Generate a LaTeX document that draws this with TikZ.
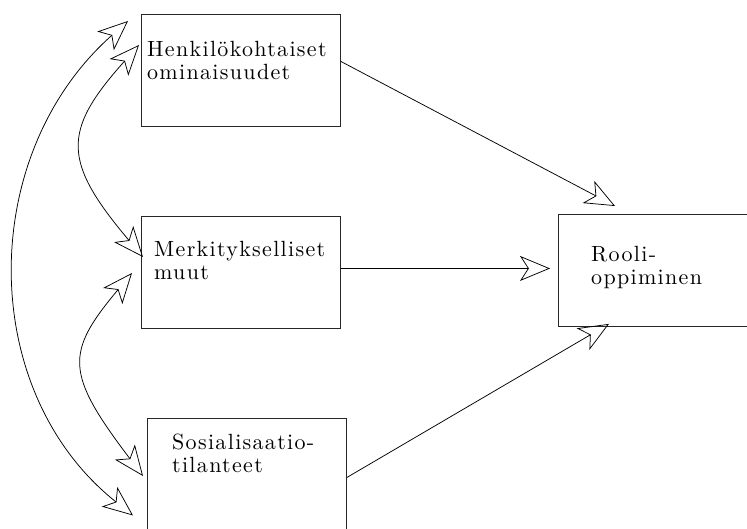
\documentclass[tikz,border=0pt]{standalone}
\usepackage{fontspec}
\setmainfont{lmroman10-regular.otf}[LetterSpace=6]
\usetikzlibrary{arrows.meta,calc}
\begin{document}
\begin{tikzpicture}[x=1pt,y=-1pt,
  box/.style={draw=black!85,line width=0.9pt,minimum width=199pt,minimum height=112pt,
    anchor=north west,inner sep=0pt},
  boxtext/.style={anchor=base west,inner sep=0pt,align=left,
    font=\fontsize{22}{23}\selectfont},
  link/.style={line width=0.75pt,-{Stealth[open,length=30pt,width=25pt,inset=8pt]}},
  duallink/.style={line width=0.75pt,
    {Stealth[open,length=30pt,width=25pt,inset=8pt]}-{Stealth[open,length=30pt,width=25pt,inset=8pt]}}
]
\useasboundingbox (0,0) rectangle (747,528);
\clip (0,0) rectangle (747,528);

% boxes
\node[box] (pers) at (141,14) {};
\node[box] (sig)  at (141,216) {};
\node[box] (soc)  at (147,418) {};
\node[box] (role) at (558,214) {};

% box texts (anchored on the baseline of the last line)
\node[boxtext] (perst) at ($(pers.north west)+(6,65)$) {Henkilökohtaiset\\ominaisuudet};
\node[boxtext] (sigt)  at ($(sig.north west)+(13,63)$) {Merkitykselliset\\muut};
\node[boxtext] (soct)  at ($(soc.north west)+(25,54)$) {Sosialisaatio-\\tilanteet};
\node[boxtext] (rolet) at ($(role.north west)+(33,70)$) {Rooli-\\oppiminen};

% effects on role learning
\draw[link] ($(pers.east)+(0,-9)$) -- ($(role.north west)+(57,-8)$);
\draw[link] ($(sig.east)+(0,-4)$) -- ($(role.west)+(-8,-2)$);
\draw[link] ($(soc.east)+(0,3)$) -- ($(role.south west)+(51,-3)$);

% curve end points
\coordinate (a1) at ($(pers.north west)+(-13,7)$);
\coordinate (a2) at ($(soc.west)+(-14,41)$);
\coordinate (b1) at ($(pers.north west)+(-2,31)$);
\coordinate (b2) at ($(sig.north west)+(2,41)$);
\coordinate (c1) at ($(sig.north west)+(-9,57)$);
\coordinate (c2) at ($(soc.north west)+(-4,58)$);

% mutual relations
\draw[duallink] (a1) .. controls +(-151,134) and +(-156,-124) .. (a2);
\draw[duallink] (b1) .. controls +(-77,86) and +(-81,-96) .. (b2);
\draw[duallink] (c1) .. controls +(-67,80) and +(-78,-103) .. (c2);
\end{tikzpicture}
\end{document}
